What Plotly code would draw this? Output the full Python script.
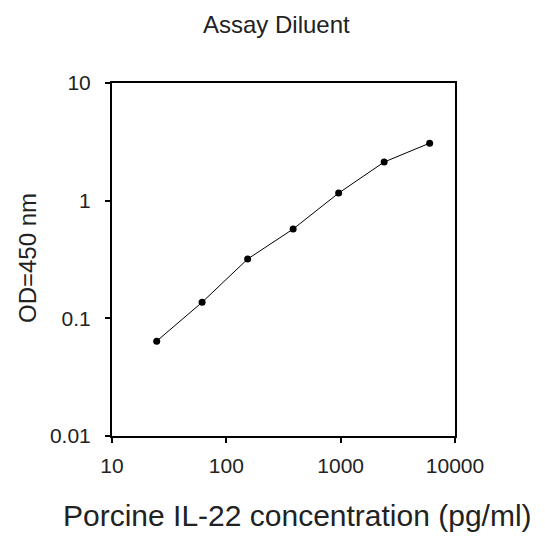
import plotly.graph_objects as go

concentration = [24.6, 61.4, 153.6, 384, 960, 2400, 6000]
od450 = [0.064, 0.137, 0.319, 0.574, 1.16, 2.13, 3.08]
x_ticks = [10, 100, 1000, 10000]
x_tick_labels = ["10", "100", "1000", "10000"]
y_ticks = [0.01, 0.1, 1, 10]
y_tick_labels = ["0.01", "0.1", "1", "10"]

fig = go.Figure()
fig.add_trace(go.Scatter(
    x=concentration, y=od450, mode="lines+markers",
    line=dict(color="black", width=1),
    marker=dict(color="black", size=7, symbol="circle"),
    showlegend=False,
))

# page has an 8px body margin; figure coords = page coords - 8
OFF = 8
W, H = 529, 525
L, T = 112 - OFF, 83 - OFF
R = W - (455 - OFF)
B = H - (436 - OFF)

fig.update_layout(
    width=W, height=H,
    margin=dict(l=L, r=R, t=T, b=B),
    paper_bgcolor="white", plot_bgcolor="white",
    font=dict(family="Liberation Sans, Arial, sans-serif", color="#222222", size=14),
    xaxis=dict(
        type="log", range=[1, 4], tickvals=x_ticks, ticktext=x_tick_labels,
        ticks="outside", ticklen=5, tickwidth=1.5, tickcolor="black",
        showline=True, linecolor="black", linewidth=2, mirror=True,
        showgrid=False, zeroline=False, tickfont=dict(size=21),
        ticklabelstandoff=5,
    ),
    yaxis=dict(
        type="log", range=[-2, 1], tickvals=y_ticks, ticktext=y_tick_labels,
        ticks="outside", ticklen=5, tickwidth=1.5, tickcolor="black",
        showline=True, linecolor="black", linewidth=2, mirror=True,
        showgrid=False, zeroline=False, tickfont=dict(size=21),
        ticklabelstandoff=10,
    ),
)

def place(text, px, py, size, angle=0):
    fx, fy = px - OFF, py - OFF
    fig.add_annotation(
        text=text, xref="paper", yref="paper",
        x=(fx - L) / (W - L - R), y=1 - (fy - T) / (H - T - B),
        showarrow=False, textangle=angle, font=dict(size=size, color="#222222"),
        xanchor="center", yanchor="middle",
    )

place("Assay Diluent", 276, 25, 24)
place("Porcine IL-22 concentration (pg/ml)", 297, 515, 30)
place("OD=450 nm", 27, 258, 24, angle=-90)

fig.write_html("out.html")
